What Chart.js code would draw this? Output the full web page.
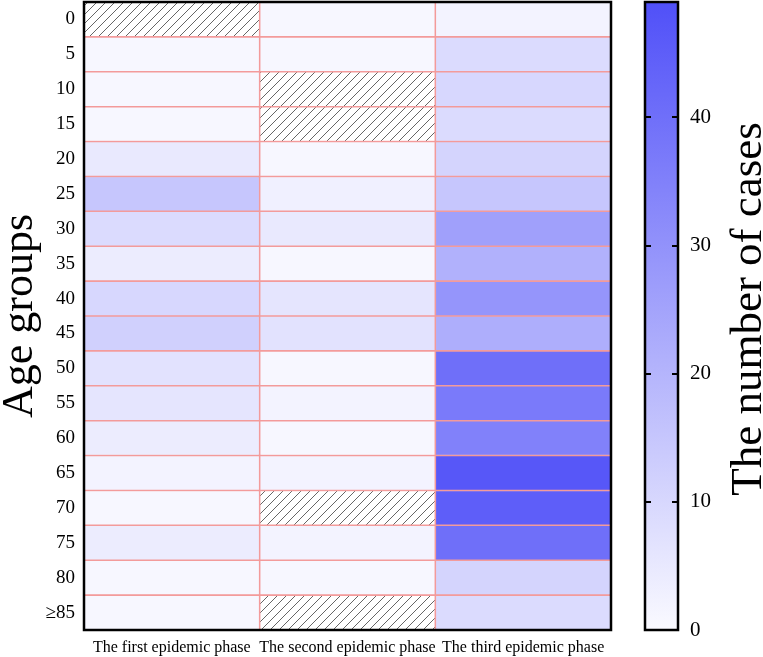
<!DOCTYPE html>
<html>
<head>
<meta charset="utf-8">
<script src="https://cdn.jsdelivr.net/npm/chart.js@4"></script>
<style>
  html, body { margin: 0; padding: 0; background: #fff; }
  #wrap { position: relative; width: 763px; height: 657px; }
  .box { position: absolute; top: 0; height: 657px; }
</style>
</head>
<body>
<div id="wrap">
  <div class="box" style="left:0;width:625px"><canvas id="heat"></canvas></div>
  <div class="box" style="left:630px;width:133px"><canvas id="bar"></canvas></div>
</div>
<script>
// rows (top to bottom) and columns
var ageGroups = ['0', '5', '10', '15', '20', '25', '30', '35', '40', '45',
                 '50', '55', '60', '65', '70', '75', '80', '≥85'];
var phases = ['The first epidemic phase', 'The second epidemic phase', 'The third epidemic phase'];

// number of cases per age group, null = no data (hatched cell)
var firstPhase  = [null, 1, 1, 1, 5, 15, 9, 4, 10, 12, 7, 6, 4, 2, 1, 4, 1, 1];
var secondPhase = [1, 1, null, null, 1, 3, 5, 1, 6, 7, 1, 2, 1, 2, null, 2, 1, null];
var thirdPhase  = [2, 9, 10, 9, 11, 15, 26, 21, 29, 22, 40, 37, 35, 47, 45, 40, 11, 9];

// colour bar
var colorTicks = [0, 10, 20, 30, 40];
var colorMax = 49;

var serif = '"Liberation Serif", "Times New Roman", serif';
Chart.defaults.font.family = serif;
Chart.defaults.color = '#000';

function caseColor(v) {
  var t = Math.max(0, Math.min(v / colorMax, 1));
  var lo = [250, 250, 255], hi = [80, 80, 248];
  var c = lo.map(function (a, k) { return Math.round(a + (hi[k] - a) * t); });
  return 'rgb(' + c.join(',') + ')';
}

// hatch for missing cells
var hatch = (function () {
  var c = document.createElement('canvas');
  c.width = 9; c.height = 9;
  var g = c.getContext('2d');
  g.fillStyle = '#fff';
  g.fillRect(0, 0, 9, 9);
  g.strokeStyle = '#555';
  g.lineWidth = 0.9;
  g.beginPath();
  g.moveTo(0, 9); g.lineTo(9, 0);
  g.moveTo(-1, 1); g.lineTo(1, -1);
  g.moveTo(8, 10); g.lineTo(10, 8);
  g.stroke();
  return g.createPattern(c, 'repeat');
})();

function noPad(s) {
  s.paddingTop = 0; s.paddingBottom = 0;
  s.paddingLeft = 0; s.paddingRight = 0;
}

var frame = {
  id: 'frame',
  afterDraw: function (chart) {
    var a = chart.chartArea, ctx = chart.ctx;
    ctx.save();
    ctx.strokeStyle = '#000';
    ctx.lineWidth = 2.5;
    ctx.strokeRect(a.left, a.top, a.right - a.left, a.bottom - a.top);
    ctx.restore();
  }
};

var series = [firstPhase, secondPhase, thirdPhase];
var datasets = series.map(function (vals, i) {
  return {
    label: phases[i],
    data: vals.map(function () { return [i, i + 1]; }),
    backgroundColor: vals.map(function (v) { return v === null ? hatch : caseColor(v); }),
    borderColor: '#f39b9b',
    borderWidth: 1.1,
    borderSkipped: false,
    grouped: false,
    barPercentage: 1,
    categoryPercentage: 1
  };
});

new Chart(document.getElementById('heat'), {
  type: 'bar',
  data: { labels: ageGroups, datasets: datasets },
  options: {
    indexAxis: 'y',
    responsive: true,
    maintainAspectRatio: false,
    animation: false,
    layout: { padding: { left: 0, right: 14, top: 2, bottom: 0 } },
    plugins: { legend: { display: false }, tooltip: { enabled: false } },
    scales: {
      x: {
        type: 'linear', min: 0, max: 3,
        grid: { display: false, drawTicks: false },
        border: { display: false },
        afterBuildTicks: function (s) {
          s.ticks = phases.map(function (p, i) { return { value: i + 0.5 }; });
        },
        ticks: {
          callback: function (v) { return phases[Math.floor(v)]; },
          font: { size: 16 }, padding: 8, maxRotation: 0, autoSkip: false
        },
        afterFit: function (s) { s.height = 27; noPad(s); }
      },
      y: {
        grid: { display: false, drawTicks: false },
        border: { display: false },
        ticks: { font: { size: 19 }, padding: 9 },
        title: { display: true, text: 'Age groups', font: { size: 44, lineHeight: 0.92 }, padding: 0 },
        afterFit: function (s) { s.width = 84; noPad(s); }
      }
    }
  },
  plugins: [frame]
});

var barDecor = {
  id: 'barDecor',
  afterDraw: function (chart) {
    var a = chart.chartArea, ctx = chart.ctx, y = chart.scales.y;
    ctx.save();
    ctx.strokeStyle = '#000';
    ctx.lineWidth = 2;
    ctx.beginPath();
    colorTicks.forEach(function (v) {
      if (v === 0) return;
      var py = Math.round(y.getPixelForValue(v));
      ctx.moveTo(a.left, py); ctx.lineTo(a.left + 6, py);
      ctx.moveTo(a.right - 6, py); ctx.lineTo(a.right, py);
    });
    ctx.stroke();
    ctx.lineWidth = 2.5;
    ctx.strokeRect(a.left, a.top, a.right - a.left, a.bottom - a.top);
    // title, read bottom to top
    ctx.translate(131, 309);
    ctx.rotate(-Math.PI / 2);
    ctx.font = '45px ' + serif;
    ctx.fillStyle = '#000';
    ctx.textAlign = 'center';
    ctx.textBaseline = 'alphabetic';
    ctx.fillText('The number of cases', 0, 0);
    ctx.restore();
  }
};

new Chart(document.getElementById('bar'), {
  type: 'bar',
  data: {
    labels: [''],
    datasets: [{
      data: [[0, colorMax]],
      backgroundColor: function (c) {
        var chart = c.chart;
        if (!chart.chartArea || !chart.scales.y) return caseColor(0);
        var y = chart.scales.y;
        var g = chart.ctx.createLinearGradient(0, y.getPixelForValue(0), 0, y.getPixelForValue(colorMax));
        g.addColorStop(0, caseColor(0));
        g.addColorStop(1, caseColor(colorMax));
        return g;
      },
      borderWidth: 0,
      barPercentage: 1,
      categoryPercentage: 1
    }]
  },
  options: {
    responsive: true,
    maintainAspectRatio: false,
    animation: false,
    layout: { padding: { left: 15, right: 0, top: 2, bottom: 27 } },
    plugins: { legend: { display: false }, tooltip: { enabled: false } },
    scales: {
      x: { display: false },
      y: {
        position: 'right', min: 0, max: colorMax,
        grid: { display: false, drawTicks: false },
        border: { display: false },
        afterBuildTicks: function (s) {
          s.ticks = colorTicks.map(function (v) { return { value: v }; });
        },
        ticks: { font: { size: 21 }, padding: 12 },
        afterFit: function (s) { s.width = 85; noPad(s); }
      }
    }
  },
  plugins: [barDecor]
});
</script>
</body>
</html>
